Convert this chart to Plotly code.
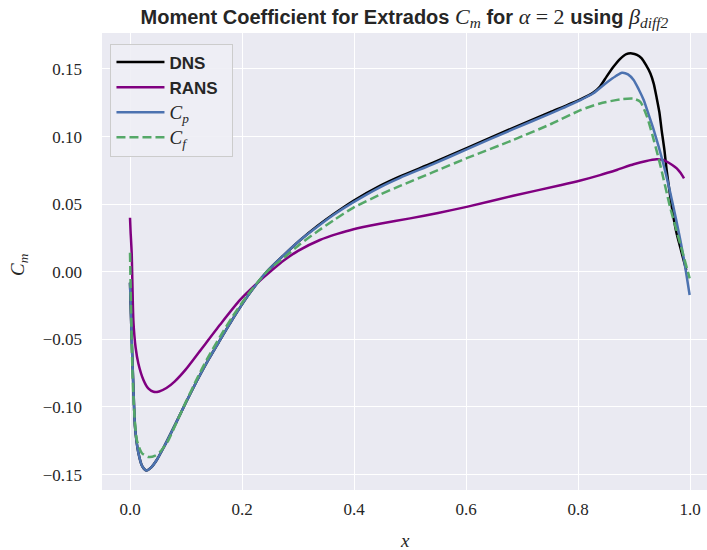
import plotly.graph_objects as go

# Moment coefficient along the extrados, four sources
dns_x = [0.0, 0.003, 0.006, 0.009, 0.015, 0.022, 0.029, 0.037, 0.048, 0.060, 0.083, 0.100, 0.119,
         0.140, 0.160, 0.184, 0.210, 0.244, 0.275, 0.304, 0.335, 0.363, 0.399, 0.446, 0.482, 0.540,
         0.601, 0.684, 0.750, 0.804, 0.827, 0.839, 0.851, 0.863, 0.875, 0.886, 0.896, 0.905, 0.913,
         0.921, 0.929, 0.935, 0.940, 0.945, 0.949, 0.954, 0.958, 0.964, 0.970, 0.976, 0.982, 0.988, 0.993]
dns_y = [-0.008, -0.050, -0.085, -0.115, -0.134, -0.144, -0.147, -0.145, -0.139, -0.130, -0.111, -0.0965, -0.081,
         -0.065, -0.051, -0.0345, -0.018, 0.0, 0.0125, 0.0235, 0.0340, 0.0425, 0.0525, 0.0635, 0.0705, 0.0805,
         0.0915, 0.1065, 0.118, 0.1275, 0.1325, 0.137, 0.1445, 0.1516, 0.1575, 0.161, 0.1615, 0.1605, 0.158,
         0.153, 0.1467, 0.139, 0.129, 0.118, 0.1048, 0.090, 0.075, 0.057, 0.0407, 0.028, 0.0185, 0.009, 0.0013]

rans_x = [0.0, 0.001, 0.003, 0.006, 0.010, 0.015, 0.024, 0.033, 0.042, 0.052, 0.065, 0.080, 0.100,
          0.125, 0.161, 0.196, 0.232, 0.250, 0.275, 0.300, 0.339, 0.370, 0.399, 0.446, 0.500, 0.550,
          0.601, 0.684, 0.768, 0.804, 0.839, 0.870, 0.899, 0.920, 0.940, 0.950, 0.958, 0.968, 0.976,
          0.983, 0.989]
rans_y = [0.040, 0.030, 0.0138, -0.036, -0.056, -0.068, -0.080, -0.0865, -0.0888, -0.0885, -0.086, -0.081, -0.072,
          -0.0585, -0.039, -0.021, -0.0065, 0.0, 0.0085, 0.0155, 0.0235, 0.028, 0.0315, 0.0355, 0.0395, 0.0435,
          0.048, 0.0562, 0.064, 0.0675, 0.0715, 0.0755, 0.0795, 0.0818, 0.0832, 0.0828, 0.0815, 0.079, 0.0765,
          0.073, 0.069]

cp_x = [0.0, 0.003, 0.006, 0.009, 0.015, 0.022, 0.029, 0.037, 0.048, 0.060, 0.083, 0.100, 0.119,
        0.140, 0.160, 0.184, 0.210, 0.244, 0.275, 0.304, 0.335, 0.363, 0.399, 0.446, 0.482, 0.540,
        0.601, 0.684, 0.750, 0.804, 0.827, 0.845, 0.857, 0.868, 0.878, 0.889, 0.899, 0.908, 0.917,
        0.926, 0.935, 0.952, 0.970, 0.988, 0.999]
cp_y = [-0.008, -0.050, -0.085, -0.115, -0.134, -0.144, -0.147, -0.145, -0.139, -0.130, -0.111, -0.0965, -0.081,
        -0.065, -0.051, -0.0345, -0.018, 0.0, 0.0125, 0.0235, 0.0335, 0.042, 0.0515, 0.0625, 0.0695, 0.0795,
        0.0905, 0.1055, 0.117, 0.127, 0.132, 0.138, 0.1418, 0.145, 0.1472, 0.146, 0.1418, 0.135, 0.127,
        0.116, 0.1048, 0.080, 0.048, 0.0111, -0.0172]

cf_x = [0.0, 0.002, 0.004, 0.007, 0.012, 0.021, 0.033, 0.045, 0.054, 0.068, 0.083, 0.100, 0.119,
        0.137, 0.160, 0.184, 0.210, 0.244, 0.275, 0.304, 0.335, 0.363, 0.399, 0.446, 0.482, 0.540,
        0.601, 0.684, 0.750, 0.804, 0.839, 0.875, 0.899, 0.911, 0.923, 0.935, 0.946, 0.964, 0.982, 0.999]
cf_y = [0.014, -0.030, -0.070, -0.100, -0.124, -0.134, -0.137, -0.136, -0.133, -0.125, -0.1115, -0.096, -0.0795,
        -0.065, -0.0485, -0.0325, -0.017, 0.0, 0.0105, 0.0205, 0.030, 0.038, 0.0475, 0.057, 0.0635, 0.0735,
        0.084, 0.0975, 0.109, 0.1195, 0.1245, 0.1275, 0.128, 0.1257, 0.1146, 0.0974, 0.080, 0.048, 0.021, -0.0049]

x_ticks = [0.0, 0.2, 0.4, 0.6, 0.8, 1.0]
y_ticks = [-0.15, -0.10, -0.05, 0.00, 0.05, 0.10, 0.15]

SANS = "Liberation Sans"
SERIF = "Liberation Serif"


def math(s, size=None):
    extra = f";font-size:{size}px" if size else ""
    return f'<span style="font-family:{SERIF}{extra}">{s}</span>'


fig = go.Figure()
series = [
    (dns_x, dns_y, "<b>DNS</b>", "#000000", "solid"),
    (rans_x, rans_y, "<b>RANS</b>&nbsp;&nbsp;", "#800080", "solid"),
    (cp_x, cp_y, math("<i>C</i><sub><i>p</i></sub>", 19), "#4C72B0", "solid"),
    (cf_x, cf_y, math("<i>C</i><sub><i>f</i></sub>", 19), "#55A868", "9px,4px"),
]
for xs, ys, name, color, dash in series:
    fig.add_trace(go.Scatter(
        x=xs, y=ys, name=name, mode="lines",
        line=dict(color=color, width=2.5, dash=dash, shape="spline", smoothing=0.6),
    ))

fig.update_layout(
    width=707, height=550,
    margin=dict(l=102, r=0, t=33, b=60),
    paper_bgcolor="white",
    plot_bgcolor="#EAEAF2",
    font=dict(family=SERIF, size=17, color="#262626"),
    showlegend=True,
    legend=dict(
        x=0.014, y=0.977, xanchor="left", yanchor="top",
        bgcolor="rgba(238,238,245,0.9)", bordercolor="#CCCCCC", borderwidth=1,
        font=dict(family=SANS, size=17, color="#262626"),
        tracegroupgap=0, itemwidth=48,
    ),
    title=dict(
        text="<b>Moment Coefficient for Extrados</b> " + math("<i>C</i><sub><i>m</i></sub>", 22)
             + " <b>for</b> " + math("<i>α</i> = 2", 22) + " <b>using</b> "
             + math("<i>β</i><sub><i>diff2</i></sub>", 22),
        x=0.572, xanchor="center", y=0.97, yanchor="middle", yref="container",
        font=dict(family=SANS, size=20, color="#262626"),
    ),
    xaxis=dict(
        range=[-0.05, 1.03], tickvals=x_ticks, ticktext=[f"{v:.1f}" for v in x_ticks],
        showgrid=True, gridcolor="white", gridwidth=1.3, zeroline=False,
        showline=False, ticks="", ticklabelstandoff=7,
    ),
    yaxis=dict(
        range=[-0.1614, 0.1766], tickvals=y_ticks,
        ticktext=[(f"{v:.2f}").replace("-", "\u2212") for v in y_ticks],
        showgrid=True, gridcolor="white", gridwidth=1.3, zeroline=False,
        showline=False, ticks="", ticklabelstandoff=19,
    ),
    annotations=[
        dict(text="<i>x</i>", x=0.5, y=-(540 - 490) / 457, xref="paper", yref="paper",
             xanchor="center", yanchor="middle",
             showarrow=False, font=dict(family=SERIF, size=19)),
        dict(text="<i>C</i><sub><i>m</i></sub>", x=-(102 - 19) / 605, y=(490 - 265) / 457,
             xref="paper", yref="paper", xanchor="center", yanchor="middle",
             showarrow=False, textangle=-90, font=dict(family=SERIF, size=19)),
    ],
)

fig.write_html("out.html")
